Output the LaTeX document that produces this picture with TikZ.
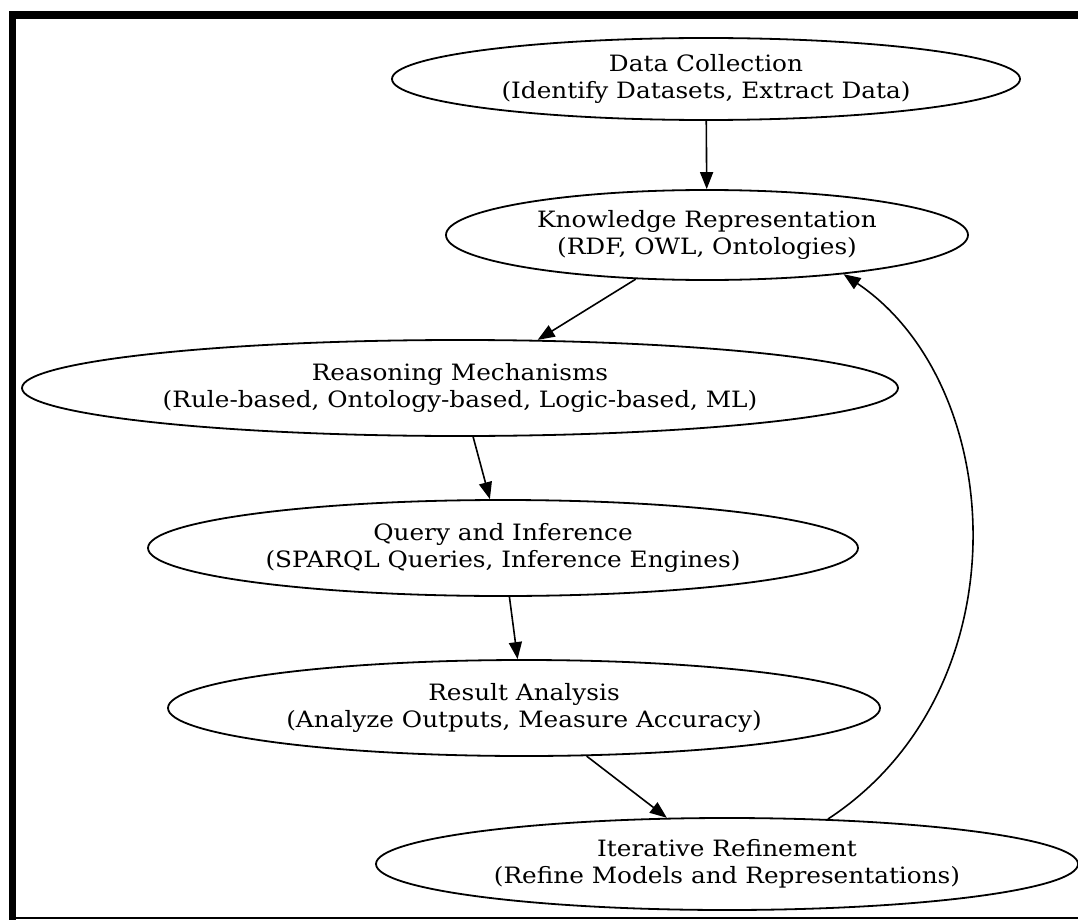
\documentclass[tikz,border=0pt]{standalone}
\usepackage{fontspec}
\setmainfont{DejaVu Serif}[FakeStretch=1.1]
\usetikzlibrary{shapes.geometric,arrows.meta}
\tikzset{
  stage/.style={draw=black, line width=1.8pt, ellipse, inner sep=0pt, align=center,
    font=\fontsize{22.5}{26.5}\selectfont},
  edge/.style={line width=1.6pt, -{Triangle[length=17pt,width=13pt]}},
}
\begin{document}
\begin{tikzpicture}[x=1pt,y=-1pt]
\useasboundingbox (0,0) rectangle (1078,920);
\fill[white] (0,0) rectangle (1078,920);
\fill[black] (9,11) rectangle (1078,19);
\fill[black] (9,11) rectangle (16,920);
\draw[line width=2pt] (9,918) -- (1078,918);

\node[stage, minimum width=628pt, minimum height=82pt] (dc) at (706,79)
  {Data Collection\\(Identify Datasets, Extract Data)};
\node[stage, minimum width=522pt, minimum height=90pt] (kr) at (707,235)
  {Knowledge Representation\\(RDF, OWL, Ontologies)};
\node[stage, minimum width=876pt, minimum height=96pt] (rm) at (460,388)
  {Reasoning Mechanisms\\(Rule-based, Ontology-based, Logic-based, ML)};
\node[stage, minimum width=710pt, minimum height=96pt] (qi) at (503,548)
  {Query and Inference\\(SPARQL Queries, Inference Engines)};
\node[stage, minimum width=712pt, minimum height=96pt] (ra) at (524,708)
  {Result Analysis\\(Analyze Outputs, Measure Accuracy)};
\node[stage, minimum width=702pt, minimum height=92pt] (ir) at (727,864)
  {Iterative Refinement\\(Refine Models and Representations)};

\draw[edge] (dc) -- (kr);
\draw[edge] (kr) -- (rm);
\draw[edge] (rm) -- (qi);
\draw[edge] (qi) -- (ra);
\draw[edge] (ra) -- (ir);
\draw[edge] (ir.24) .. controls (1025,690) and (1008,385) .. (kr.-16.6);
\end{tikzpicture}
\end{document}
